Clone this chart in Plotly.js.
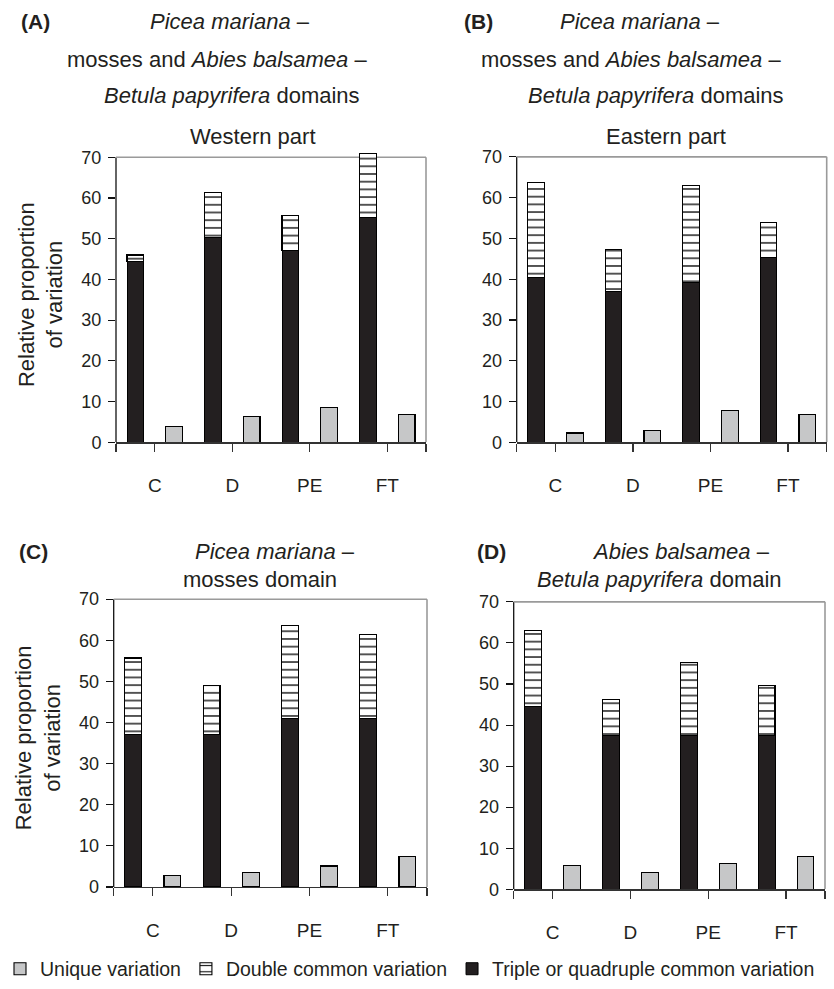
<!DOCTYPE html>
<html><head><meta charset="utf-8">
<script src="https://cdn.plot.ly/plotly-3.0.1.min.js"></script>
<style>html,body{margin:0;padding:0;background:#fff}#chart{width:834px;height:989px}</style>
</head><body><div id="chart"></div>
<script>
// ---- data ----
const categories = ['C', 'D', 'PE', 'FT'];
const yTicks = [0, 10, 20, 30, 40, 50, 60, 70];

const tripleA = [44.5, 50.4, 47.0, 55.2];
const doubleA = [1.5, 11.0, 8.7, 15.8];
const uniqueA = [4.0, 6.3, 8.6, 6.9];

const tripleB = [40.4, 36.9, 39.1, 45.3];
const doubleB = [23.2, 10.3, 23.9, 8.7];
const uniqueB = [2.3, 2.9, 7.9, 6.9];

const tripleC = [37.1, 37.1, 41.0, 41.0];
const doubleC = [18.6, 11.9, 22.5, 20.3];
const uniqueC = [2.8, 3.5, 5.1, 7.4];

const tripleD = [44.6, 37.5, 37.5, 37.5];
const doubleD = [18.5, 8.8, 17.8, 12.1];
const uniqueD = [5.7, 4.0, 6.2, 7.9];

const seriesNames = ['Unique variation', 'Double common variation', 'Triple or quadruple common variation'];

// ---- styles ----
const W = 834, H = 989;
const FONT = 'Liberation Sans, Arial, Helvetica, sans-serif';
const TXT = '#231f20';
const BLACK = '#231f20';
const GRAY = '#c6c7c8';
const BORDER = '#9a9a9a';
const BW = 0.43;
const YMAX = 70, YTOP = 72.5;

const pairPos = categories.map((c, i) => 2 * i + 0.5);
const uniqPos = categories.map((c, i) => 2 * i + 1.5);

const panels = [
  {ax: '', t: tripleA, d: doubleA, u: uniqueA, legend: true},
  {ax: '2', t: tripleB, d: doubleB, u: uniqueB, legend: false},
  {ax: '3', t: tripleC, d: doubleC, u: uniqueC, legend: false},
  {ax: '4', t: tripleD, d: doubleD, u: uniqueD, legend: false}
];

const traces = [];
panels.forEach(p => {
  const xa = 'x' + p.ax, ya = 'y' + p.ax;
  traces.push({
    type: 'bar', name: seriesNames[2], x: pairPos, y: p.t, xaxis: xa, yaxis: ya,
    width: BW, legendgroup: 'triple', legendrank: 3, showlegend: p.legend,
    marker: {color: BLACK, line: {color: '#000', width: 1}},
    customdata: categories, hovertemplate: '%{customdata}: %{y}<extra>' + seriesNames[2] + '</extra>'
  });
  traces.push({
    type: 'bar', name: seriesNames[1], x: pairPos, y: p.d, xaxis: xa, yaxis: ya,
    width: BW, legendgroup: 'double', legendrank: 2, showlegend: p.legend,
    marker: {color: '#ffffff', line: {color: '#000', width: 1.1},
      pattern: {shape: '-', fgcolor: '#000', bgcolor: '#ffffff', size: 7.7, solidity: 0.17}},
    customdata: categories, hovertemplate: '%{customdata}: %{y}<extra>' + seriesNames[1] + '</extra>'
  });
  traces.push({
    type: 'bar', name: seriesNames[0], x: uniqPos, y: p.u, xaxis: xa, yaxis: ya,
    width: BW, legendgroup: 'unique', legendrank: 1, showlegend: p.legend,
    marker: {color: GRAY, line: {color: '#000', width: 1.1}},
    customdata: categories, hovertemplate: '%{customdata}: %{y}<extra>' + seriesNames[0] + '</extra>'
  });
});

// panel geometry in pixels: [left, right, pixel of y=70, pixel of y=0]
const geom = [
  [116, 426, 157.7, 443.7],
  [516.7, 826.7, 157.3, 443.7],
  [113.7, 427, 601, 889.7],
  [513.7, 825, 603.7, 892]
];

const layout = {
  width: W, height: H,
  margin: {l: 0, r: 0, t: 0, b: 0},
  paper_bgcolor: '#fff', plot_bgcolor: 'rgba(0,0,0,0)',
  font: {family: FONT, color: TXT, size: 18},
  barmode: 'stack',
  showlegend: true,
  legend: {orientation: 'h', x: 0, xanchor: 'left', y: 1 - 972 / H, yanchor: 'middle',
    font: {family: FONT, size: 19.5, color: TXT}, traceorder: 'normal', bgcolor: 'rgba(0,0,0,0)',
    borderwidth: 0},
  shapes: [],
  annotations: []
};

const shortTicks = [0, 1, 3, 5, 7, 8];
const longTicks = [2, 4, 6];

panels.forEach((p, i) => {
  const g = geom[i];
  const ppu = (g[3] - g[2]) / YMAX;
  const topPx = g[3] - YTOP * ppu;
  const xd = [g[0] / W, g[1] / W];
  const yd = [1 - g[3] / H, 1 - topPx / H];
  const xk = 'xaxis' + p.ax, yk = 'yaxis' + p.ax;
  const xr = 'x' + p.ax, yr = 'y' + p.ax;
  layout[xk] = {
    domain: xd, anchor: yr, range: [0, 8], fixedrange: true,
    showline: true, linecolor: '#333', linewidth: 1.3, showgrid: false, zeroline: false,
    tickmode: 'array', tickvals: shortTicks, ticktext: [''].concat(categories, ['']),
    ticks: 'outside', ticklen: 8, tickwidth: 1.2, tickcolor: '#333',
    ticklabelstandoff: 18, tickfont: {size: 19, color: TXT, family: FONT}
  };
  layout[yk] = {
    domain: yd, anchor: xr, range: [0, YTOP], fixedrange: true,
    showline: false, showgrid: false, zeroline: false,
    tickmode: 'array', tickvals: yTicks,
    ticks: 'outside', ticklen: 7, tickwidth: 1.1, tickcolor: '#111',
    ticklabelstandoff: 3, tickfont: {size: 18, color: TXT, family: FONT}
  };
  if (i === 0 || i === 2) {
    layout[yk].title = {text: 'Relative proportion<br>of variation', font: {size: 22, color: TXT, family: FONT}, standoff: 12};
  }
  // long group-separator ticks via overlaying axis
  const ov = 'xaxis' + (5 + i);
  layout[ov] = {
    overlaying: xr, anchor: yr, side: 'bottom', range: [0, 8], fixedrange: true,
    showline: false, showgrid: false, zeroline: false, showticklabels: false,
    tickmode: 'array', tickvals: longTicks, ticks: 'outside', ticklen: 29, tickwidth: 1.2, tickcolor: '#444'
  };
  // frame: black left axis line, grey top and right lines (up to y = 70)
  layout.shapes.push({type: 'line', xref: xr + ' domain', yref: yr,
    x0: 0, x1: 0, y0: 0, y1: YMAX, line: {color: '#111', width: 1.3}, layer: 'below'});
  layout.shapes.push({type: 'line', xref: xr + ' domain', yref: yr,
    x0: 0, x1: 1, y0: YMAX, y1: YMAX, line: {color: BORDER, width: 1.6}, layer: 'below'});
  layout.shapes.push({type: 'line', xref: xr + ' domain', yref: yr,
    x0: 1, x1: 1, y0: 0, y1: YMAX, line: {color: BORDER, width: 1.6}, layer: 'below'});
});

function ann(text, x, y, opts) {
  layout.annotations.push(Object.assign({
    text: text, xref: 'paper', yref: 'paper', x: x / W, y: 1 - y / H,
    xanchor: 'center', yanchor: 'middle', showarrow: false,
    font: {family: FONT, size: 22, color: TXT}
  }, opts || {}));
}
const labFont = {font: {family: FONT, size: 21, color: TXT}};
// Panel A
ann('<b>(A)</b>', 35, 22, labFont);
ann('<i>Picea mariana</i> –', 230, 22);
ann('mosses and <i>Abies balsamea</i> –', 217, 60);
ann('<i>Betula papyrifera</i> domains', 232, 96);
ann('Western part', 253, 137);
// Panel B
ann('<b>(B)</b>', 478, 22, labFont);
ann('<i>Picea mariana</i> –', 640, 22);
ann('mosses and <i>Abies balsamea</i> –', 631, 60);
ann('<i>Betula papyrifera</i> domains', 656, 96);
ann('Eastern part', 666, 137);
// Panel C
ann('<b>(C)</b>', 33, 553, labFont);
ann('<i>Picea mariana</i> –', 275, 553);
ann('mosses domain', 260, 581);
// Panel D
ann('<b>(D)</b>', 491, 553, labFont);
ann('<i>Abies balsamea</i> –', 681, 553);
ann('<i>Betula papyrifera</i> domain', 659, 581);

Plotly.newPlot('chart', traces, layout, {displayModeBar: false, staticPlot: true});
</script>
</body></html>
